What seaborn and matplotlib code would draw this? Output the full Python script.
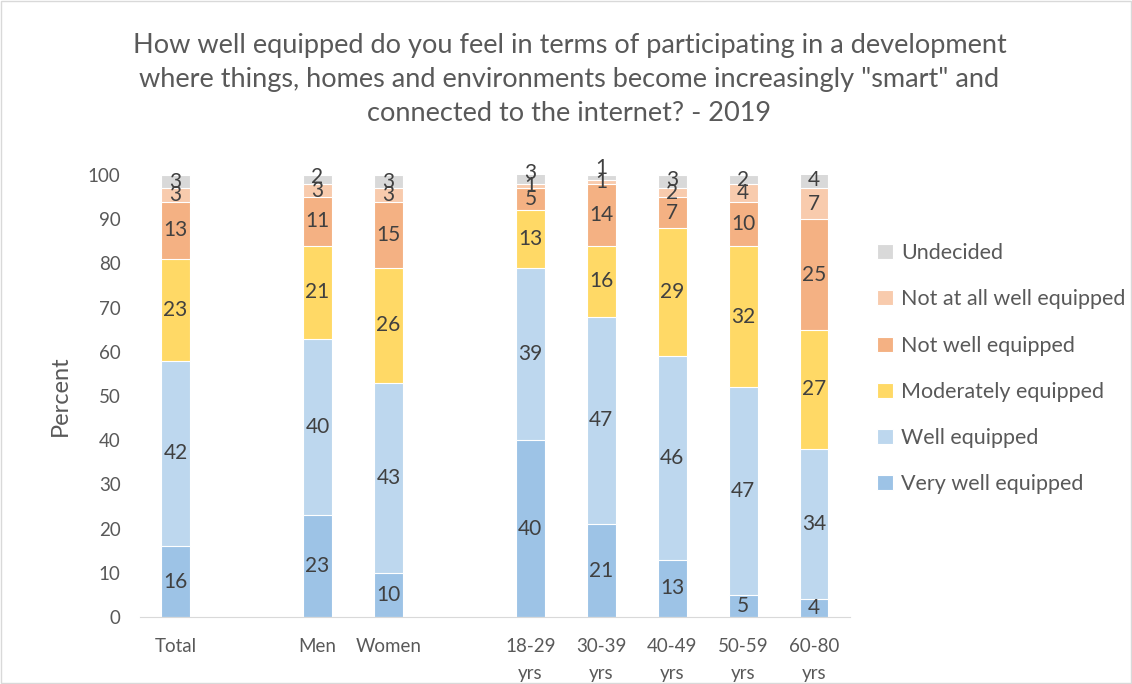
import seaborn as sns
import matplotlib.pyplot as plt
import pandas as pd
import numpy as np

# 数据
groups = ["Total", "Men", "Women", "18-29\nyrs", "30-39\nyrs", "40-49\nyrs", "50-59\nyrs", "60-80\nyrs"]
# gaps between the groups of bars
slots = ["Total", "gap1", "Men", "Women", "gap2", "18-29\nyrs", "30-39\nyrs", "40-49\nyrs", "50-59\nyrs", "60-80\nyrs"]

very_well = [16, 23, 10, 40, 21, 13, 5, 4]
well = [42, 40, 43, 39, 47, 46, 47, 34]
moderately = [23, 21, 26, 13, 16, 29, 32, 27]
not_well = [13, 11, 15, 5, 14, 7, 10, 25]
not_at_all = [3, 3, 3, 1, 1, 2, 4, 7]
undecided = [3, 2, 3, 3, 1, 3, 2, 4]

series = ["Very well equipped", "Well equipped", "Moderately equipped",
          "Not well equipped", "Not at all well equipped", "Undecided"]
colors = ["#9DC3E6", "#BDD7EE", "#FFD966", "#F4B183", "#F8CBAD", "#D9D9D9"]

df = pd.DataFrame({"group": groups,
                   series[0]: very_well, series[1]: well, series[2]: moderately,
                   series[3]: not_well, series[4]: not_at_all, series[5]: undecided})
cum = df[series].cumsum(axis=1)

sns.set_style("white")
plt.rcParams["font.family"] = ["Lato", "DejaVu Sans"]
grey = "#595959"

fig = plt.figure(figsize=(11.32, 6.84), dpi=100)
ax = fig.add_axes([0.1237, 0.098, 0.627, 0.646])

# 堆叠柱状图: 从最上层往下画
for s, c in reversed(list(zip(series, colors))):
    sns.barplot(data=cum.assign(group=df["group"]), x="group", y=s, order=slots,
                color=c, width=0.4, edgecolor="white", linewidth=0.8,
                saturation=1, ax=ax, label=s)

# 数据标签 (小段的标签往上推一点, 像Excel那样)
for i, g in enumerate(groups):
    xpos = slots.index(g)
    bottom = 0
    prev = -10
    for s in series:
        v = df.loc[i, s]
        pos = bottom + v / 2
        if pos - prev < 3:
            pos = prev + 3
        ax.text(xpos, pos, str(v), ha="center", va="center",
                fontsize=15, color="#404040")
        prev = pos
        bottom += v

ax.set_ylim(0, 100)
ax.set_xlim(-0.5, len(slots) - 0.5)
ax.set_yticks(range(0, 101, 10))
ax.set_xticks(range(len(slots)))
ax.set_xticklabels([s if not s.startswith("gap") else "" for s in slots],
                   linespacing=1.75)
ax.tick_params(axis="both", labelsize=13.5, colors=grey, length=0)
ax.tick_params(axis="x", pad=15)
ax.tick_params(axis="y", pad=14)
for sp in ["top", "right", "left"]:
    ax.spines[sp].set_visible(False)
ax.spines["bottom"].set_color("#D9D9D9")
ax.set_xlabel("")
ax.set_ylabel("Percent", fontsize=17, color=grey, labelpad=12)

fig.suptitle('How well equipped do you feel in terms of participating in a development\n'
             'where things, homes and environments become increasingly "smart" and\n'
             'connected to the internet? - 2019',
             x=0.503, y=0.952, fontsize=19.5, color=grey, linespacing=1.45)

handles, labels = ax.get_legend_handles_labels()
ax.legend_.remove() if ax.legend_ else None
fig.legend(handles, labels, loc="upper left", bbox_to_anchor=(0.758, 0.673),
           frameon=False, fontsize=15.5, labelcolor=grey, labelspacing=1.22,
           handlelength=0.7, handleheight=0.7, handletextpad=0.4)

fig.patches.append(plt.Rectangle((0.001, 0.001), 0.998, 0.998, transform=fig.transFigure,
                                 fill=False, edgecolor="#D9D9D9", linewidth=1))

plt.savefig("out.png", dpi=100)
